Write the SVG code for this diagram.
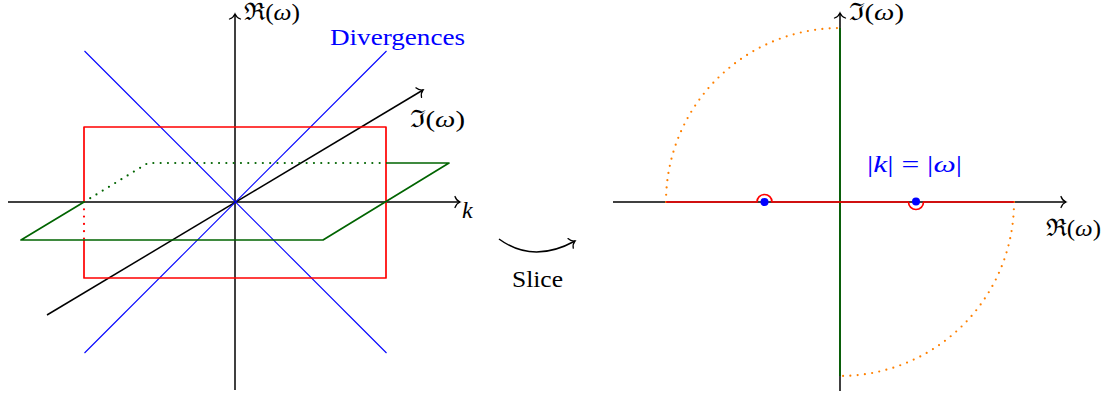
<svg xmlns="http://www.w3.org/2000/svg" width="1110" height="398" viewBox="0 0 1110 398">
<style>
.ax{stroke:#000;stroke-width:1.5;fill:none}
.blue{stroke:#0000ff;stroke-width:1.1;fill:none}
.red{stroke:#ff0000;stroke-width:1.7;fill:none;stroke-linejoin:round}
.green{stroke:#006400;stroke-width:1.7;fill:none;stroke-linejoin:round}
.dot{stroke-dasharray:0 7.3;stroke-linecap:round;stroke-width:2.2}
.orange{stroke:#ff8000;fill:none}
.t{font-family:"Liberation Serif","Times New Roman",Times,serif;font-size:24px;fill:#000}
.m{font-style:italic}
.bl{fill:#0000ff}
</style>
<defs>
<marker id="arr" markerUnits="userSpaceOnUse" viewBox="-7 -7 9 14" markerWidth="9" markerHeight="14" refX="0" refY="0" orient="auto" overflow="visible">
<path d="M-5,-5.5 C-4,-2.5 -1.5,-0.6 0,0 C-1.5,0.6 -4,2.5 -5,5.5" fill="none" stroke="#000" stroke-width="1.3" stroke-linecap="round"/>
</marker>
</defs>
<g id="left-axes">
<path class="ax" d="M235,390 V14" marker-end="url(#arr)"/>
<path class="ax" d="M8,202 H460" marker-end="url(#arr)"/>
<path class="ax" d="M47,315 L423,90" marker-end="url(#arr)"/>
</g>
<g id="divergences">
<path class="blue" d="M386.5,353 L84.5,51"/>
<path class="blue" d="M84.5,353 L386.5,51"/>
</g>
<g id="red-plane">
<path class="red" d="M84,202 V127 H386 V278 H84 V240"/>
<path class="red dot" d="M84,202 V240"/>
</g>
<g id="green-plane">
<path class="green" d="M386,163 H449 L323,240 H21 L84,202"/>
<path class="green dot" d="M84,202 L148,163 H386"/>
</g>
<g id="left-labels">
<text class="t" x="244" y="20" textLength="56" lengthAdjust="spacingAndGlyphs">ℜ(<tspan class="m">ω</tspan>)</text>
<text class="t" x="410" y="127" textLength="55" lengthAdjust="spacingAndGlyphs">ℑ(<tspan class="m">ω</tspan>)</text>
<text class="t m" x="462" y="218">k</text>
<text class="t bl" x="330" y="45" textLength="135" lengthAdjust="spacingAndGlyphs">Divergences</text>
</g>
<g id="slice">
<path class="ax" d="M499,239 Q533,264 575,241" marker-end="url(#arr)"/>
<text class="t" x="512" y="287" textLength="51" lengthAdjust="spacingAndGlyphs">Slice</text>
</g>
<g id="right-axes">
<path class="ax" d="M613,202 H1066" marker-end="url(#arr)"/>
<path class="ax" d="M840,391 V13" marker-end="url(#arr)"/>
<path class="green" d="M840,376 V28"/>
</g>
<g id="contour">
<path class="orange dot" d="M666,202 A174,174 0 0 1 840,28"/>
<path class="orange dot" d="M1014,202 A174,174 0 0 1 840,376"/>
<path class="red" d="M666,202 H757 A7.5,7.5 0 0 1 772,202 H908.5 A7.5,7.5 0 0 0 923.5,202 H1014"/>
</g>
<g id="poles">
<circle cx="764.5" cy="202" r="4" fill="#0000ff"/>
<circle cx="916" cy="201.5" r="4" fill="#0000ff"/>
</g>
<g id="right-labels">
<text class="t" x="849" y="20" textLength="55" lengthAdjust="spacingAndGlyphs">ℑ(<tspan class="m">ω</tspan>)</text>
<text class="t" x="1046" y="236" textLength="55" lengthAdjust="spacingAndGlyphs">ℜ(<tspan class="m">ω</tspan>)</text>
<text class="t bl" x="867" y="172" textLength="95" lengthAdjust="spacingAndGlyphs">|<tspan class="m">k</tspan>| = |<tspan class="m">ω</tspan>|</text>
</g>
</svg>
